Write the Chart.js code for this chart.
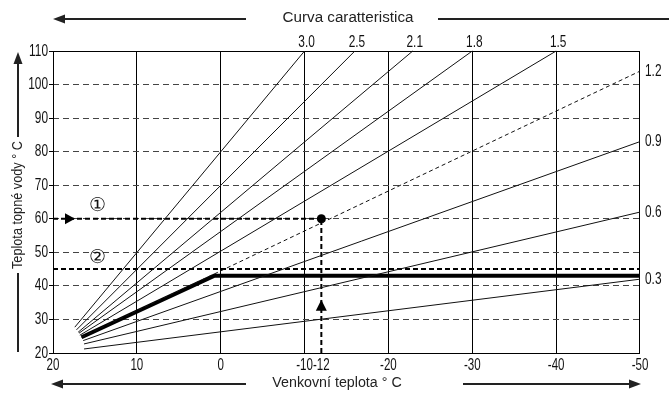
<!DOCTYPE html>
<html>
<head>
<meta charset="utf-8">
<script src="https://cdn.jsdelivr.net/npm/chart.js@4.4.1/dist/chart.umd.min.js"></script>
<style>
  html, body { margin: 0; padding: 0; background: #fff; }
  canvas { display: block; }
</style>
</head>
<body>
<canvas id="chart" width="669" height="393"></canvas>
<script>
// Heating characteristic curves: slope label, start point and end point
const curveLabels    = ['3.0', '2.5', '2.1', '1.8', '1.5', '1.2', '0.9', '0.6', '0.3'];
const curveStartOut  = [17.4, 17.2, 17.0, 16.9, 16.8, 16.6, 16.4, 16.3, 16.3];
const curveStartFlow = [27.7, 26.9, 26.2, 25.9, 25.3, 24.7, 23.7, 22.7, 21.2];
const curveEndOut    = [-10, -16, -22.9, -30, -40, -50, -50, -50, -50];
const curveEndFlow   = [110, 110, 110, 110, 110, 104, 83, 62, 42];
const dashedCurve    = '1.2';

// Limited curve (bold): follows 1.2 up to the flow limit
const limitOut  = [16.6, 0.8, -50];
const limitFlow = [24.7, 43, 43];

// Design point ① and maximum flow ②
const designOut  = -12;
const designFlow = 60;
const maxFlow    = 45;

// Axis ticks
const xTickValues = [20, 10, 0, -10, -12, -20, -30, -40, -50];
const yTickValues = [20, 30, 40, 50, 60, 70, 80, 90, 100, 110];

const FONT = "'Liberation Sans', 'Arimo', sans-serif";
const INK = '#111';

const datasets = [];

curveLabels.forEach((lab, i) => {
  datasets.push({
    label: lab,
    data: [
      { x: curveStartOut[i], y: curveStartFlow[i] },
      { x: curveEndOut[i], y: curveEndFlow[i] }
    ],
    borderColor: INK,
    borderWidth: 1,
    borderDash: lab === dashedCurve ? [4, 3] : [],
    pointRadius: 0,
    clip: false
  });
});

datasets.push({
  label: 'limit',
  data: limitOut.map((x, i) => ({ x, y: limitFlow[i] })),
  borderColor: '#000',
  borderWidth: 4,
  borderJoinStyle: 'miter',
  pointRadius: 0
});

datasets.push({
  label: 'design-h',
  data: [{ x: 20, y: designFlow }, { x: designOut, y: designFlow }],
  borderColor: '#000',
  borderWidth: 2,
  borderDash: [5, 3],
  pointRadius: 0
});

datasets.push({
  label: 'design-v',
  data: [{ x: designOut, y: 20 }, { x: designOut, y: designFlow }],
  borderColor: '#000',
  borderWidth: 2,
  borderDash: [5, 3],
  pointRadius: 0
});

datasets.push({
  label: 'max',
  data: [{ x: 20, y: maxFlow }, { x: -50, y: maxFlow }],
  borderColor: '#000',
  borderWidth: 2,
  borderDash: [5, 3],
  pointRadius: 0
});

datasets.push({
  label: 'design-point',
  data: [{ x: designOut, y: designFlow }],
  showLine: false,
  pointRadius: 4.5,
  pointBackgroundColor: '#000',
  pointBorderColor: '#000',
  pointBorderWidth: 0
});

function tri(ctx, x, y, dir, w, h) {
  ctx.beginPath();
  if (dir === 'right') { ctx.moveTo(x + w / 2, y); ctx.lineTo(x - w / 2, y - h / 2); ctx.lineTo(x - w / 2, y + h / 2); }
  if (dir === 'left')  { ctx.moveTo(x - w / 2, y); ctx.lineTo(x + w / 2, y - h / 2); ctx.lineTo(x + w / 2, y + h / 2); }
  if (dir === 'up')    { ctx.moveTo(x, y - h / 2); ctx.lineTo(x - w / 2, y + h / 2); ctx.lineTo(x + w / 2, y + h / 2); }
  ctx.closePath();
  ctx.fill();
}

function hline(ctx, x1, x2, y, w) {
  ctx.beginPath();
  ctx.lineWidth = w;
  ctx.moveTo(x1, y);
  ctx.lineTo(x2, y);
  ctx.stroke();
}

// condensed text: horizontal squeeze around the anchor point
function text(ctx, str, x, y, align, sx, rot) {
  ctx.save();
  ctx.translate(x, y);
  if (rot) ctx.rotate(rot);
  ctx.scale(sx, 1);
  ctx.textAlign = align;
  ctx.textBaseline = 'middle';
  ctx.fillText(str, 0, 0);
  ctx.restore();
}

const decorations = {
  id: 'decorations',
  beforeDatasetsDraw(chart) {
    const { ctx, chartArea: a } = chart;
    ctx.save();
    ctx.strokeStyle = '#000';
    ctx.lineWidth = 1;
    ctx.strokeRect(Math.round(a.left) + 0.5, Math.round(a.top) + 0.5,
                   Math.round(a.right - a.left) - 1, Math.round(a.bottom - a.top));
    ctx.restore();
  },
  afterDatasetsDraw(chart) {
    const { ctx, chartArea: a, scales: { x: xs, y: ys } } = chart;
    ctx.save();
    ctx.fillStyle = INK;
    ctx.strokeStyle = '#000';

    // tick labels
    ctx.font = '16.5px ' + FONT;
    xs.ticks.forEach(t => text(ctx, String(t.value), xs.getPixelForValue(t.value), a.bottom + 12, 'center', 0.7));
    ys.ticks.forEach(t => text(ctx, String(t.value), a.left - 5, ys.getPixelForValue(t.value), 'right', 0.72));

    // arrowheads on the design lines
    ctx.fillStyle = '#000';
    tri(ctx, a.left + 17, ys.getPixelForValue(designFlow), 'right', 10, 11);
    tri(ctx, xs.getPixelForValue(designOut), ys.getPixelForValue(34.2), 'up', 11, 11);

    // curve labels
    ctx.fillStyle = INK;
    ctx.font = '16.5px ' + FONT;
    curveLabels.forEach((lab, i) => {
      const px = xs.getPixelForValue(curveEndOut[i]);
      const py = ys.getPixelForValue(curveEndFlow[i]);
      if (curveEndFlow[i] >= 110) {
        text(ctx, lab, px + 2, a.top - 9, 'center', 0.72);
      } else {
        text(ctx, lab, a.right + 5, py, 'left', 0.72);
      }
    });

    // circled markers
    ctx.font = '19px ' + FONT;
    text(ctx, '\u2460', a.left + 44, ys.getPixelForValue(designFlow) - 13, 'center', 1);
    text(ctx, '\u2461', a.left + 44, ys.getPixelForValue(maxFlow) - 11, 'center', 1);

    // top title with arrow
    ctx.font = '15.5px ' + FONT;
    ctx.fillStyle = '#222';
    ctx.strokeStyle = '#222';
    text(ctx, 'Curva caratteristica', 348, 18, 'center', 0.98);
    hline(ctx, 60, 246, 19, 2);
    tri(ctx, 59, 19, 'left', 12, 9);
    hline(ctx, 438, 669, 19, 2);

    // bottom title with arrows
    text(ctx, 'Venkovní teplota ° C', 337, 383, 'center', 0.92);
    hline(ctx, 58, 246, 384, 2);
    tri(ctx, 57, 384, 'left', 12, 9);
    hline(ctx, 463, 634, 384, 2);
    tri(ctx, 635, 384, 'right', 12, 9);

    // vertical title with arrow
    text(ctx, 'Teplota topné vody ° C', 18, 205, 'center', 0.82, -Math.PI / 2);
    ctx.beginPath();
    ctx.lineWidth = 2;
    ctx.moveTo(18, 137); ctx.lineTo(18, 62);
    ctx.moveTo(18, 273); ctx.lineTo(18, 352);
    ctx.stroke();
    tri(ctx, 18, 58, 'up', 9, 12);
    ctx.restore();
  }
};

new Chart(document.getElementById('chart'), {
  type: 'line',
  data: { datasets },
  options: {
    responsive: false,
    devicePixelRatio: 1,
    animation: false,
    layout: { padding: { top: 51, right: 29, left: 0, bottom: 0 } },
    plugins: { legend: { display: false }, tooltip: { enabled: false } },
    scales: {
      x: {
        type: 'linear',
        reverse: true,
        min: -50,
        max: 20,
        afterBuildTicks: s => { s.ticks = xTickValues.map(v => ({ value: v })); },
        afterFit: s => { s.height = 40; },
        border: { display: false },
        grid: {
          drawTicks: false,
          lineWidth: 1,
          color: c => (c.tick && (c.tick.value === designOut || c.tick.value === 20 || c.tick.value === -50)) ? 'rgba(0,0,0,0)' : '#000'
        },
        ticks: { display: false, autoSkip: false }
      },
      y: {
        type: 'linear',
        min: 20,
        max: 110,
        afterBuildTicks: s => { s.ticks = yTickValues.map(v => ({ value: v })); },
        afterFit: s => { s.width = 53; },
        border: { display: false, dash: [6, 4] },
        grid: {
          drawTicks: true,
          tickLength: 4,
          tickColor: '#000',
          lineWidth: 1,
          color: c => (c.tick && (c.tick.value === 20 || c.tick.value === 110)) ? 'rgba(0,0,0,0)' : '#444'
        },
        ticks: { display: false }
      }
    }
  },
  plugins: [decorations]
});
</script>
</body>
</html>
